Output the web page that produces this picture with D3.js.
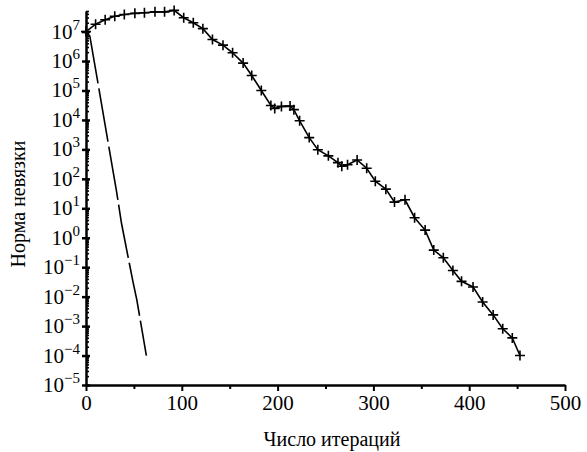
<!DOCTYPE html>
<html>
<head>
<meta charset="UTF-8">
<script src="https://cdn.jsdelivr.net/npm/d3@7/dist/d3.min.js"></script>
</head>
<body style="margin:0">
<script>
// iterations of the solid curve with "+" markers and log10 of the residual norm
var iterMain = [0, 10, 20, 30, 40, 51, 61, 72, 82, 92, 102, 112, 122, 132, 143, 153, 164, 173, 183, 193,
                197, 204, 213, 217, 223, 233, 242, 253, 263, 267, 273, 283, 293, 302, 313, 322, 333,
                343, 354, 363, 373, 383, 392, 404, 414, 425, 435, 445, 453];
var logMain  = [7.0, 7.25, 7.40, 7.52, 7.58, 7.62, 7.64, 7.67, 7.67, 7.72, 7.47, 7.30, 7.10, 6.73, 6.54, 6.28, 5.93, 5.51, 5.0, 4.49,
                4.39, 4.46, 4.47, 4.35, 3.97, 3.40, 2.99, 2.78, 2.55, 2.43, 2.48, 2.64, 2.36, 1.92, 1.65, 1.21, 1.29,
                0.68, 0.26, -0.42, -0.68, -1.11, -1.48, -1.67, -2.18, -2.62, -3.09, -3.40, -4.0];
// dashed curve
var iterDash = [0, 4, 13, 23, 32, 37, 43.5, 49, 53, 63];
var logDash  = [7.0, 6.85, 5.15, 3.25, 1.55, 0.5, -0.58, -1.49, -2.1, -4.0];

var xTicks = [0, 100, 200, 300, 400, 500];
var xMinor = [50, 150, 250, 350, 450];
var yExp = [-5, -4, -3, -2, -1, 0, 1, 2, 3, 4, 5, 6, 7];

var width = 587, height = 452;
var svg = d3.select('body').append('svg')
  .attr('width', width)
  .attr('height', height)
  .attr('font-family', 'Liberation Serif');

var x = d3.scaleLinear().domain([0, 500]).range([86, 565]);
var y = d3.scaleLog().domain([1e-5, 5e7]).range([385, 11]);

// minor ticks of log axis: 2..9 x 10^k
var yMinor = [];
yExp.forEach(function(e) {
  for (var m = 2; m <= 9; m++) {
    var v = m * Math.pow(10, e);
    if (v <= 5e7) yMinor.push(v);
  }
});

function plain(g) {
  g.attr('font-family', null).attr('font-size', null);
  g.selectAll('line').attr('stroke', '#000');
  g.select('.domain').attr('stroke', '#000');
}

// x axis
svg.append('g')
  .attr('transform', 'translate(0,385)')
  .call(d3.axisBottom(x).tickValues(xMinor).tickSize(4).tickFormat(''))
  .call(plain)
  .call(function(g) { g.select('.domain').remove(); g.selectAll('line').attr('stroke-width', 2); });
svg.append('g')
  .attr('transform', 'translate(0,385)')
  .call(d3.axisBottom(x).tickValues(xTicks).tickSize(6).tickSizeOuter(0).tickPadding(4))
  .call(plain)
  .call(function(g) {
    g.select('.domain').attr('stroke-width', 2.5);
    g.selectAll('line').attr('stroke-width', 2);
    g.selectAll('text').attr('font-size', 21).attr('fill', '#000');
  });

// y axis
var yMajor = yExp.map(function(e) { return Math.pow(10, e); });
svg.append('g')
  .attr('transform', 'translate(86,0)')
  .call(d3.axisRight(y).tickValues(yMinor).tickSize(3).tickFormat(''))
  .call(plain)
  .call(function(g) { g.select('.domain').remove(); g.selectAll('line').attr('stroke-width', 1.6); });
svg.append('g')
  .attr('transform', 'translate(86,0)')
  .call(d3.axisRight(y).tickValues(yMajor).tickSize(4).tickFormat(''))
  .call(plain)
  .call(function(g) { g.select('.domain').remove(); g.selectAll('line').attr('stroke-width', 2.5); });
svg.append('g')
  .attr('transform', 'translate(86,0)')
  .call(d3.axisLeft(y).tickValues(yMajor).tickSize(4).tickSizeOuter(0).tickFormat(''))
  .call(plain)
  .call(function(g) {
    g.select('.domain').attr('stroke-width', 2.5);
    g.selectAll('line').attr('stroke-width', 2.5);
  });

// y tick labels 10^k
var yLab = svg.append('g')
  .selectAll('text')
  .data(yExp)
  .enter()
  .append('text')
  .attr('x', 80)
  .attr('y', function(d) { return y(Math.pow(10, d)) + 7; })
  .attr('text-anchor', 'end')
  .attr('font-size', 21)
  .attr('fill', '#000');
yLab.append('tspan').text('10');
yLab.append('tspan')
  .attr('dy', -9)
  .attr('font-size', 15)
  .text(function(d) { return d < 0 ? '\u2212' + (-d) : String(d); });

// axis titles
svg.append('text')
  .attr('x', 332)
  .attr('y', 446)
  .attr('text-anchor', 'middle')
  .attr('font-size', 20)
  .text('Число итераций');
svg.append('text')
  .attr('transform', 'translate(25,204) rotate(-90)')
  .attr('text-anchor', 'middle')
  .attr('font-size', 20)
  .text('Норма невязки');

// curves
var mainData = iterMain.map(function(d, i) { return [d, Math.pow(10, logMain[i])]; });
var dashData = iterDash.map(function(d, i) { return [d, Math.pow(10, logDash[i])]; });
var line = d3.line()
  .x(function(d) { return x(d[0]); })
  .y(function(d) { return y(d[1]); });

svg.append('path')
  .datum(dashData)
  .attr('fill', 'none')
  .attr('stroke', '#000')
  .attr('stroke-width', 1.6)
  .attr('stroke-dasharray', '54,5')
  .attr('d', line);

svg.append('path')
  .datum(mainData)
  .attr('fill', 'none')
  .attr('stroke', '#000')
  .attr('stroke-width', 1.6)
  .attr('d', line);

// "+" markers
svg.append('g')
  .selectAll('path')
  .data(mainData)
  .enter()
  .append('path')
  .attr('transform', function(d) { return 'translate(' + x(d[0]) + ',' + y(d[1]) + ')'; })
  .attr('d', 'M-5,0H5M0,-5V5')
  .attr('stroke', '#000')
  .attr('stroke-width', 1.6);
</script>
</body>
</html>
